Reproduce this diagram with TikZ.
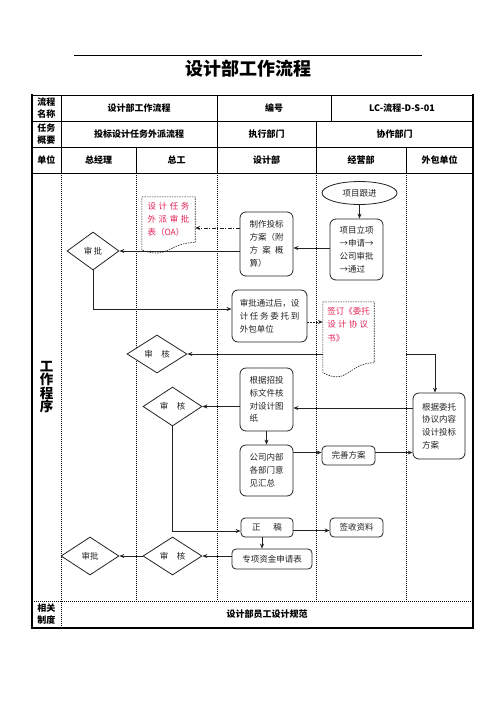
\documentclass[tikz,border=0pt]{standalone}
\usepackage{fontspec}
\setmainfont{Noto Sans CJK SC}
\usetikzlibrary{shapes.geometric,arrows.meta,calc}
\definecolor{docred}{RGB}{225,35,85}
\definecolor{ink}{RGB}{35,35,35}
\newcommand\mydocpath[3]{%
  \draw[docline] (#1.north west) -- (#1.north east) -- ($(#1.north east)+(0,0.802*#3)$)
    .. controls +(-0.5*#2,0) and +(0.5*#2,0.173*#3) .. ($(#1.north west)+(0,0.934*#3)$) -- cycle;}
\begin{document}
\begin{tikzpicture}[x=1pt,y=-1pt,
  thickline/.style={line width=1.6pt},
  thinline/.style={line width=0.8pt},
  laneline/.style={line width=0.6pt,dash pattern=on 1pt off 1pt},
  hd/.style={font=\bfseries\fontsize{9}{12}\selectfont,align=center,inner sep=0pt},
  box/.style={draw=ink,fill=white,line width=0.8pt,rounded corners=6pt,align=left,inner sep=0pt,
    font=\fontsize{8.5}{12.8}\selectfont,text=ink},
  dia/.style={diamond,draw=ink,fill=white,line width=0.8pt,inner sep=0pt,
    font=\fontsize{8.5}{12}\selectfont,text=ink},
  docline/.style={draw=ink,fill=white,line width=0.6pt,dash pattern=on 1.5pt off 1pt},
  doctext/.style={align=left,inner sep=0pt,text=docred,font=\fontsize{8.5}{13.3}\selectfont},
  arr/.style={line width=0.8pt,draw=ink,-{Stealth[length=5pt,width=4pt]}},
  ln/.style={line width=0.8pt,draw=ink}
]
\useasboundingbox (0,0) rectangle (496,702);
% title
\node[font=\bfseries\fontsize{18}{20}\selectfont,inner sep=0pt] (title) at (248,69) {设计部工作流程};
\coordinate (tl) at (74,55); \coordinate (tr) at (422,55);
\draw[thinline] (tl) -- (tr);
% table frame
\draw[thinline] (32,95) -- (473,95);
\draw[thinline] (32,121) -- (473,121);
\draw[thinline] (32,147) -- (473,147);
\draw[thinline] (32,173) -- (473,173);
\draw[laneline] (32,601) -- (473,601);
\draw[thickline] (32,94.2) -- (32,628) -- (473,628) -- (473,94.2);
\draw[thinline] (61,95) -- (61,173);
\draw[thinline] (217,95) -- (217,147);
\draw[thinline] (331,95) -- (331,121);
\draw[thinline] (316,121) -- (316,173);
\draw[thinline] (136,147) -- (136,173);
\draw[thinline] (217,147) -- (217,173);
\draw[thinline] (406,147) -- (406,173);
\draw[laneline] (61,173) -- (61,628);
\coordinate (l2) at (136,173);
\coordinate (l3) at (217,173);
\coordinate (l4) at (316,173);
\coordinate (l5) at (406,173);
\draw[laneline] (l2) -- (136,601);
\draw[laneline] (l3) -- (217,601);
\draw[laneline] (l4) -- (316,601);
\draw[laneline] (l5) -- (406,601);
% header texts
\node[hd] (r1a) at (46.5,108) {流程\\名称};
\node[hd] (r1b) at (139,108) {设计部工作流程};
\node[hd] (r1c) at (274,108) {编号};
\node[hd] (r1d) at (402,108) {LC-流程-D-S-01};
\node[hd] (r2a) at (46.5,134) {任务\\概要};
\node[hd] (r2b) at (139,134) {投标设计任务外派流程};
\node[hd] (r2c) at (266.5,134) {执行部门};
\node[hd] (r2d) at (394.5,134) {协作部门};
\node[hd] (r3a) at (46.5,160) {单位};
\node[hd] (r3b) at (98.5,160) {总经理};
\node[hd] (r3c) at (176.5,160) {总工};
\node[hd] (r3d) at (266.5,160) {设计部};
\node[hd] (r3e) at (361,160) {经营部};
\node[hd] (r3f) at (439.5,160) {外包单位};
\node[hd,font=\bfseries\fontsize{13.5}{13.5}\selectfont] (gzcx) at (46.5,387) {工\\作\\程\\序};
\node[hd] (xg) at (46.5,614) {相关\\制度};
\node[hd] (xgz) at (267,614) {设计部员工设计规范};
% nodes
\node[ellipse,draw=ink,fill=white,line width=0.8pt,minimum width=75pt,minimum height=23pt,inner sep=0pt,
  font=\fontsize{8.5}{12}\selectfont,text=ink] (gen) at (359.5,193) {项目跟进};
\node[box,minimum width=53pt,minimum height=61pt] (lx) at (356.5,249.5) {项目立项\\→申请→\\公司审批\\→通过};
\node[box,minimum width=53pt,minimum height=64pt] (zz) at (266.5,244) {制作投标\\方案（附\\\makebox[34pt][s]{方 案 概}\\算）};
\node[minimum width=53pt,minimum height=57pt,inner sep=0pt] (oabox) at (168.5,225.5) {};
\mydocpath{oabox}{53}{57}
\node[doctext] (oa) at (168.5,219.5) {\makebox[42pt][s]{设 计 任 务}\\\makebox[42pt][s]{外 派 审 批}\\表（OA）};
\node[dia,minimum width=52pt,minimum height=38pt] (d1) at (93,251) {审\,批};
\node[box,minimum width=75pt,minimum height=52pt] (tp) at (269.5,316) {审批通过后，设\\\makebox[59.5pt][s]{计 任 务 委 托 到}\\外包单位};
\node[minimum width=51pt,minimum height=76pt,inner sep=0pt] (signbox) at (348.5,340) {};
\mydocpath{signbox}{51}{76}
\node[doctext] (sign) at (348.5,324.5) {签订《委托\\\makebox[41pt][s]{设 计 协 议}\\书》};
\node[dia,minimum width=60pt,minimum height=38pt] (d2) at (157,354) {审\quad 核};
\node[box,minimum width=52pt,minimum height=66pt] (wt) at (439,426) {根据委托\\协议内容\\设计投标\\方案};
\node[box,minimum width=53pt,minimum height=63pt] (hdz) at (266.5,399.5) {根据招投\\标文件核\\对设计图\\纸};
\node[dia,minimum width=59pt,minimum height=39pt] (d3) at (172.5,406.5) {审\quad 核};
\node[box,minimum width=53pt,minimum height=51pt] (gs) at (266.5,470.5) {公司内部\\各部门意\\见汇总};
\node[box,minimum width=53pt,minimum height=19pt,rounded corners=4pt] (ws) at (348.5,455.5) {完善方案};
\node[box,minimum width=52pt,minimum height=19pt,rounded corners=4pt] (zg) at (267,527.5) {\makebox[30pt][s]{正 稿}};
\node[box,minimum width=53pt,minimum height=19pt,rounded corners=4pt] (qs) at (356.5,527.5) {签收资料};
\node[box,minimum width=80pt,minimum height=20pt,rounded corners=4pt] (zx) at (272,559) {专项资金申请表};
\node[dia,minimum width=59pt,minimum height=38pt] (d4) at (172.5,556) {审\quad 核};
\node[dia,minimum width=58pt,minimum height=38pt] (d5) at (90,556) {审批};
% connectors
\draw[arr] (gen.south) -- (gen.south |- lx.north);
\coordinate (c0) at ($(lx.west)+(0,-1.5)$);
\draw[arr] (c0) -- (c0 -| zz.east);
\draw[arr] (zz.west |- d1.east) -- (d1.east);
\coordinate (c1) at ($(zz.west)+(0,-16)$);
\draw[arr,dash pattern=on 4pt off 1.5pt on 1pt off 1.5pt] (c1) -- (c1 -| oabox.east);
\coordinate (c2) at ($(tp.west)+(0,-7)$);
\draw[arr] (d1.south) |- (c2);
\coordinate (c3) at ($(tp.east)+(0,6)$);
\draw[arr,dash pattern=on 1.5pt off 1.5pt] (c3) -- (c3 -| signbox.west);
\draw[arr] (d2.east -| signbox.west) -- (d2.east);
\coordinate (c4) at ($(wt.north)+(-4,0)$);
\draw[arr] (l5 |- d2.east) -| (c4);
\coordinate (c5) at ($(wt.west)+(0,-18)$);
\draw[arr] (c5) -- (c5 -| hdz.east);
\draw[arr] (d3.east -| hdz.west) -- (d3.east);
\coordinate (c5b) at ($(zg.west)+(0,3.5)$);
\draw[arr] (d3.south) |- (c5b);
\draw[arr] (hdz.south) -- (gs.north);
\coordinate (c6) at ($(ws.west)+(0,-3)$);
\draw[arr] (c6 -| gs.east) -- (c6);
\coordinate (c8) at ($(ws.east)+(0,-3)$);
\draw[arr] (c8) -- (c8 -| wt.west);
\coordinate (c9) at ($(zg.east)+(0,3)$);
\draw[arr] (c9) -- (c9 -| qs.west);
\coordinate (c7) at ($(zg.south)+(-5,0)$);
\draw[arr] (c7) -- (c7 |- zx.north);
\draw[arr] (d4.east -| zx.west) -- (d4.east);
\draw[arr] (d4.west) -- (d5.east);
\end{tikzpicture}
\end{document}
